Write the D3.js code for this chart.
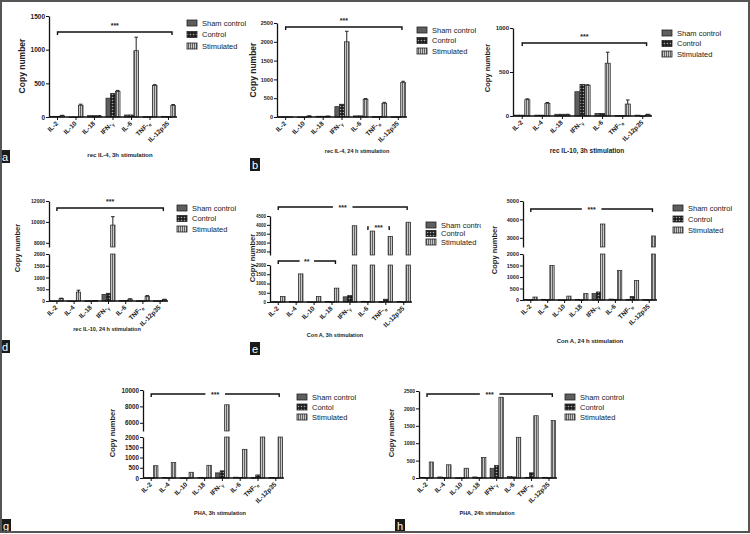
<!DOCTYPE html>
<html>
<head>
<meta charset="utf-8">
<script src="https://cdn.jsdelivr.net/npm/d3@7"></script>
<style>
  body { margin: 0; background: #fff; }
  svg { display: block; font-family: "Liberation Sans", Arial, sans-serif; }
</style>
</head>
<body>
<div id="fig"></div>
<script>
// categories
const catsIL4 = ["IL-2", "IL-10", "IL-18", "IFN-γ", "IL-6", "TNF-α", "IL-12p35"];
const catsIL10 = ["IL-2", "IL-4", "IL-18", "IFN-γ", "IL-6", "TNF-α", "IL-12p35"];
const cats8 = ["IL-2", "IL-4", "IL-10", "IL-18", "IFN-γ", "IL-6", "TNF-α", "IL-12p35"];
const seriesNames = ["Sham control", "Control", "Stimulated"];
const seriesNamesG = ["Sham control", "Contol", "Stimulated"];

// a: rec IL-4, 3h
const aSham = [10, 0, 20, 280, 30, 5, 10];
const aControl = [10, 0, 20, 350, 30, 5, 5];
const aStim = [20, 175, 15, 380, 985, 470, 170];
const aStimErr = [5, 15, 5, 15, 200, 10, 15];
const aTicks = [0, 500, 1000, 1500];

// b: rec IL-4, 24 h
const bSham = [5, 0, 20, 275, 30, 10, 5];
const bControl = [5, 0, 20, 340, 30, 10, 5];
const bStim = [5, 25, 20, 2000, 470, 365, 920];
const bStimErr = [0, 5, 5, 280, 20, 25, 30];
const bTicks = [0, 500, 1000, 1500, 2000, 2500];

// c: rec IL-10, 3h
const cSham = [10, 10, 20, 276, 30, 5, 10];
const cControl = [10, 10, 20, 360, 30, 5, 0];
const cStim = [185, 144, 15, 350, 600, 136, 15];
const cStimErr = [10, 10, 5, 5, 125, 46, 5];
const cTicks = [0, 500, 1000];

// d: rec IL-10, 24 h (broken axis)
const dSham = [0, 0, 10, 280, 20, 10, 10];
const dControl = [0, 0, 10, 330, 20, 10, 10];
const dStim = [100, 380, 15, 9700, 80, 200, 60];
const dStimErr = [20, 80, 5, 800, 15, 30, 15];
const dTicksLow = [0, 500, 1000, 1500, 2000];
const dTicksUp = [8000, 10000, 12000];

// e: Con A, 3h (broken axis)
const eSham = [10, 30, 5, 30, 280, 40, 20, 30];
const eControl = [5, 10, 5, 10, 350, 30, 150, 10];
const eStim = [300, 1520, 300, 750, 3950, 3650, 3350, 4150];
const eTicksLow = [0, 500, 1000, 1500, 2000];
const eTicksUp = [2500, 3000, 3500, 4000, 4500];

// f: Con A, 24 h (broken axis)
const fSham = [20, 30, 5, 30, 280, 40, 20, 20];
const fControl = [10, 10, 5, 10, 350, 30, 150, 10];
const fStim = [130, 1500, 170, 280, 3750, 1280, 850, 3100];
const fTicksLow = [0, 500, 1000, 1500, 2000];
const fTicksUp = [3000, 4000, 5000];

// g: PHA, 3h (broken axis)
const gSham = [10, 30, 5, 30, 250, 40, 20, 20];
const gControl = [5, 10, 5, 10, 350, 30, 150, 10];
const gStim = [600, 750, 280, 620, 8200, 1400, 4000, 4000];
const gTicksLow = [0, 500, 1000, 1500, 2000];
const gTicksUp = [6000, 8000, 10000];

// h: PHA, 24h
const hSham = [20, 30, 5, 30, 280, 40, 20, 20];
const hControl = [5, 10, 5, 10, 360, 30, 150, 10];
const hStim = [460, 380, 280, 590, 2320, 1170, 1790, 1650];
const hTicks = [0, 500, 1000, 1500, 2000, 2500];

const W = 750, H = 534;
const svg = d3.select("#fig").append("svg").attr("width", W).attr("height", H);

const defs = svg.append("defs");
defs.append("pattern").attr("id", "pat-ctrl")
  .attr("width", 3).attr("height", 3).attr("patternUnits", "userSpaceOnUse")
  .call(p => {
    p.append("rect").attr("width", 3).attr("height", 3).attr("fill", "#1e1e1e");
    p.append("circle").attr("cx", 1.5).attr("cy", 1.5).attr("r", 0.8).attr("fill", "#aaa");
  });
defs.append("pattern").attr("id", "pat-stim")
  .attr("width", 2).attr("height", 4).attr("patternUnits", "userSpaceOnUse")
  .call(p => {
    p.append("rect").attr("width", 2).attr("height", 4).attr("fill", "#c8c8c8");
    p.append("rect").attr("width", 0.9).attr("height", 4).attr("fill", "#555");
  });
const fills = ["#5e5e5e", "url(#pat-ctrl)", "url(#pat-stim)"];

const panels = [
  { cats: catsIL4, values: [aSham, aControl, aStim], err: aStimErr, names: seriesNames,
    x0: 49, x1: 177, lowDom: [0, 1500], lowRange: [117, 16], lowTicks: aTicks, tk: 6.5,
    yl: [25, 66], yf: 8.5, legend: [187, 23, 11.5], title: "rec IL-4, 3h stimulation", tx: 120, ty: 157, ts: 6,
    letter: ["a", 0, 150], brackets: [{ from: 0, to: 6, label: "***", y: 32, gap: false }] },
  { cats: catsIL4, values: [bSham, bControl, bStim], err: bStimErr, names: seriesNames,
    x0: 277, x1: 407, lowDom: [0, 2500], lowRange: [117, 23], lowTicks: bTicks, tk: 5.5,
    yl: [256, 70], yf: 8.5, legend: [417, 30, 10.5], title: "rec IL-4, 24 h stimulation", tx: 357, ty: 153, ts: 5.5,
    letter: ["b", 250, 158], brackets: [{ from: 0, to: 6, label: "***", y: 27, gap: false }] },
  { cats: catsIL10, values: [cSham, cControl, cStim], err: cStimErr, names: seriesNames,
    x0: 513, x1: 652, lowDom: [0, 1000], lowRange: [116, 28], lowTicks: cTicks, tk: 6,
    yl: [490, 68], yf: 7.5, legend: [662, 33, 10.5], title: "rec IL-10, 3h stimulation", tx: 587, ty: 153, ts: 6.5,
    letter: null, brackets: [{ from: 0, to: 6, label: "***", y: 43, gap: false }] },
  { cats: catsIL10, values: [dSham, dControl, dStim], err: dStimErr, names: seriesNames,
    x0: 49, x1: 168, lowDom: [0, 2000], lowRange: [301, 254], lowTicks: dTicksLow, tk: 5,
    upDom: [7600, 12000], upRange: [247, 201], upTicks: dTicksUp,
    yl: [20, 248], yf: 7.5, legend: [177, 208, 10.5], title: "rec IL-10, 24 h stimulation", tx: 107, ty: 331, ts: 5.5,
    letter: ["d", 0, 340], brackets: [{ from: 0, to: 6, label: "***", y: 208, gap: false }] },
  { cats: cats8, values: [eSham, eControl, eStim], err: null, names: seriesNames,
    x0: 270, x1: 412, lowDom: [0, 2000], lowRange: [302, 265], lowTicks: eTicksLow, tk: 4.5,
    upDom: [2300, 4500], upRange: [255, 216], upTicks: eTicksUp,
    yl: [255, 258], yf: 7.5, legend: [426, 225, 8.5], title: "Con A, 3h stimulation", tx: 335, ty: 337, ts: 5.5,
    letter: ["e", 250, 342], clip: [250, 175, 231, 180],
    brackets: [{ from: 0, to: 7, label: "***", y: 207, gap: true },
               { from: 0, to: 3, label: "**", y: 261, gap: true },
               { from: 5, to: 6, label: "***", y: 227, gap: true }] },
  { cats: cats8, values: [fSham, fControl, fStim], err: null, names: seriesNames,
    x0: 523, x1: 657, lowDom: [0, 2000], lowRange: [300, 254], lowTicks: fTicksLow, tk: 5.5,
    upDom: [2500, 5000], upRange: [247, 201], upTicks: fTicksUp,
    yl: [497, 250], yf: 7.5, legend: [673, 208, 11], title: "Con A, 24 h stimulation", tx: 590, ty: 343, ts: 6,
    letter: null, brackets: [{ from: 0, to: 7, label: "***", y: 209, gap: true }] },
  { cats: cats8, values: [gSham, gControl, gStim], err: null, names: seriesNamesG,
    x0: 143, x1: 284, lowDom: [0, 2000], lowRange: [478, 437], lowTicks: gTicksLow, tk: 6.3,
    upDom: [5000, 10000], upRange: [431, 390], upTicks: gTicksUp,
    yl: [115, 433], yf: 7.5, legend: [297, 397, 10], title: "PHA, 3h stimulation", tx: 220, ty: 515, ts: 5.5,
    letter: ["g", 1, 519], brackets: [{ from: 0, to: 7, label: "***", y: 394, gap: true }] },
  { cats: cats8, values: [hSham, hControl, hStim], err: null, names: seriesNames,
    x0: 419, x1: 557, lowDom: [0, 2500], lowRange: [478, 391], lowTicks: hTicks, tk: 5,
    yl: [394, 433], yf: 7.5, legend: [565, 397, 10], title: "PHA, 24h stimulation", tx: 487, ty: 515, ts: 5.5,
    letter: ["h", 395, 519], brackets: [{ from: 0, to: 7, label: "***", y: 394, gap: true }] }
];

function styleAxis(sel, size) {
  sel.attr("font-family", null).attr("font-size", null);
  sel.select(".domain").attr("stroke", "#111").attr("stroke-width", 1.3);
  sel.selectAll(".tick line").attr("stroke", "#111").attr("stroke-width", 1);
  sel.selectAll(".tick text").attr("font-size", size).attr("font-weight", "bold").attr("fill", "#222").attr("x", -4);
}

function labelText(sel, name) {
  const sub = name.match(/^(.*-)([γα])$/);
  if (sub) {
    sel.append("tspan").text(sub[1]);
    sel.append("tspan").text(sub[2]).attr("font-size", 4.5).attr("dy", 1.5);
  } else {
    sel.text(name);
  }
}

const fmt = d3.format("d");

panels.forEach((p, pi) => {
  const g = svg.append("g");
  if (p.clip) {
    defs.append("clipPath").attr("id", "clip" + pi).append("rect")
      .attr("x", p.clip[0]).attr("y", p.clip[1]).attr("width", p.clip[2]).attr("height", p.clip[3]);
    g.attr("clip-path", `url(#clip${pi})`);
  }
  const x = d3.scaleBand().domain(p.cats).range([p.x0, p.x1]).paddingInner(0.24).paddingOuter(0.08);
  const xs = d3.scaleBand().domain([0, 1, 2]).range([0, x.bandwidth()]);
  const yLow = d3.scaleLinear().domain(p.lowDom).range(p.lowRange);
  const yUp = p.upDom ? d3.scaleLinear().domain(p.upDom).range(p.upRange) : null;
  const y0 = yLow(0);

  const yOf = v => {
    if (!yUp || v <= p.lowDom[1]) return yLow(v);
    if (v >= p.upDom[0]) return yUp(v);
    return yLow(p.lowDom[1]);
  };
  const segs = v => {
    if (!yUp || v <= p.lowDom[1]) return [[yLow(v), y0]];
    const out = [[yLow(p.lowDom[1]), y0]];
    if (v > p.upDom[0]) out.push([yUp(v), yUp(p.upDom[0])]);
    return out;
  };

  // bars
  p.values.forEach((vals, s) => {
    vals.forEach((v, i) => {
      segs(v).forEach(([top, bot]) => {
        g.append("rect")
          .attr("x", x(p.cats[i]) + xs(s)).attr("y", top)
          .attr("width", xs.bandwidth()).attr("height", Math.max(0.6, bot - top))
          .attr("fill", fills[s]).attr("stroke", "#222").attr("stroke-width", 0.7);
      });
    });
  });

  // error bars on stimulated series
  if (p.err) {
    p.err.forEach((e, i) => {
      if (!e) return;
      const v = p.values[2][i];
      const cx = x(p.cats[i]) + xs(2) + xs.bandwidth() / 2;
      const yt = yOf(v + e);
      g.append("line").attr("x1", cx).attr("x2", cx).attr("y1", yOf(v)).attr("y2", yt)
        .attr("stroke", "#222").attr("stroke-width", 1);
      g.append("line").attr("x1", cx - 1.8).attr("x2", cx + 1.8).attr("y1", yt).attr("y2", yt)
        .attr("stroke", "#222").attr("stroke-width", 1);
    });
  }

  // y axes
  g.append("g").attr("transform", `translate(${p.x0},0)`)
    .call(d3.axisLeft(yLow).tickValues(p.lowTicks).tickFormat(fmt).tickSize(3).tickSizeOuter(0))
    .call(styleAxis, p.tk);
  if (yUp) {
    g.append("g").attr("transform", `translate(${p.x0},0)`)
      .call(d3.axisLeft(yUp).tickValues(p.upTicks).tickFormat(fmt).tickSize(3).tickSizeOuter(0))
      .call(styleAxis, p.tk);
  }

  // x axis
  g.append("line").attr("x1", p.x0).attr("x2", p.x1).attr("y1", y0).attr("y2", y0)
    .attr("stroke", "#111").attr("stroke-width", 1.3);
  p.cats.forEach(c => {
    const cx = x(c) + x.bandwidth() / 2;
    g.append("line").attr("x1", cx).attr("x2", cx).attr("y1", y0).attr("y2", y0 + 3)
      .attr("stroke", "#111").attr("stroke-width", 1);
    g.append("text")
      .attr("transform", `translate(${cx + 1},${y0 + 7}) rotate(-45)`)
      .attr("text-anchor", "end").attr("font-size", 6.5).attr("font-weight", "bold").attr("fill", "#222")
      .call(labelText, c);
  });

  // y label
  g.append("text").attr("transform", `translate(${p.yl[0]},${p.yl[1]}) rotate(-90)`)
    .attr("text-anchor", "middle").attr("font-size", p.yf).attr("font-weight", "bold").attr("fill", "#222")
    .text("Copy number");

  // significance brackets
  p.brackets.forEach(b => {
    const xa = x(p.cats[b.from]) + x.bandwidth() / 2;
    const xb = x(p.cats[b.to]) + x.bandwidth() * 0.75;
    const mid = (xa + xb) / 2;
    const stroke = l => l.attr("fill", "none").attr("stroke", "#111").attr("stroke-width", 1.4);
    if (b.gap) {
      const hw = b.label.length * 2.6 + 2;
      g.append("path").attr("d", `M${xa},${b.y + 3}V${b.y}H${mid - hw}`).call(stroke);
      g.append("path").attr("d", `M${mid + hw},${b.y}H${xb}V${b.y + 3}`).call(stroke);
      g.append("text").attr("x", mid).attr("y", b.y + 2.5).attr("text-anchor", "middle")
        .attr("font-size", 7).attr("font-weight", "bold").attr("fill", "#222").text(b.label);
    } else {
      g.append("path").attr("d", `M${xa},${b.y + 3}V${b.y}H${xb}V${b.y + 3}`).call(stroke);
      g.append("text").attr("x", mid).attr("y", b.y - 4).attr("text-anchor", "middle")
        .attr("font-size", 7).attr("font-weight", "bold").attr("fill", "#222").text(b.label);
    }
  });

  // legend
  p.names.forEach((n, s) => {
    const ly = p.legend[1] + s * p.legend[2];
    g.append("rect").attr("x", p.legend[0]).attr("y", ly - 3).attr("width", 10).attr("height", 6)
      .attr("fill", fills[s]).attr("stroke", "#222").attr("stroke-width", 0.8);
    g.append("text").attr("x", p.legend[0] + 15).attr("y", ly + 2.6)
      .attr("font-size", 7.5).attr("fill", "#222").text(n);
  });

  // title
  g.append("text").attr("x", p.tx).attr("y", p.ty).attr("text-anchor", "middle")
    .attr("font-size", p.ts).attr("font-weight", "bold").attr("fill", "#222").text(p.title);

  // panel letter
  if (p.letter) {
    svg.append("rect").attr("x", p.letter[1]).attr("y", p.letter[2]).attr("width", 10).attr("height", 13)
      .attr("fill", "#1a1a1a");
    svg.append("text").attr("x", p.letter[1] + 5).attr("y", p.letter[2] + 10.5).attr("text-anchor", "middle")
      .attr("font-size", 11).attr("fill", "#fff").text(p.letter[0]);
  }
});

// outer frame
svg.append("rect").attr("x", 1).attr("y", 1).attr("width", W - 2).attr("height", 531)
  .attr("fill", "none").attr("stroke", "#555").attr("stroke-width", 2);
</script>
</body>
</html>
